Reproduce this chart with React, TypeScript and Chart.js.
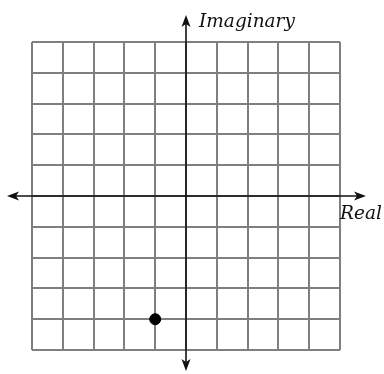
import React, { useEffect, useRef } from "react";
import { Chart, registerables } from "chart.js";

Chart.register(...registerables);

const realValues = [-1];
const imaginaryValues = [-4];
const axisMin = -5;
const axisMax = 5;
const xLabel = "Real";
const yLabel = "Imaginary";

const axesPlugin = {
  id: "complexAxes",
  afterDatasetsDraw(chart: any) {
    const { ctx, scales } = chart;
    const x0 = scales.x.getPixelForValue(0);
    const y0 = scales.y.getPixelForValue(0);
    ctx.save();
    ctx.strokeStyle = "#111";
    ctx.fillStyle = "#111";
    ctx.lineWidth = 1.6;
    const hl = 7, hr = 366;
    ctx.beginPath();
    ctx.moveTo(hl + 6, y0);
    ctx.lineTo(hr - 6, y0);
    ctx.stroke();
    const vt = 15, vb = 371;
    ctx.beginPath();
    ctx.moveTo(x0, vt + 6);
    ctx.lineTo(x0, vb - 6);
    ctx.stroke();
    const tri = (pts: number[][]) => {
      ctx.beginPath();
      ctx.moveTo(pts[0][0], pts[0][1]);
      ctx.lineTo(pts[1][0], pts[1][1]);
      ctx.lineTo(pts[2][0], pts[2][1]);
      ctx.lineTo(pts[3][0], pts[3][1]);
      ctx.closePath();
      ctx.fill();
    };
    tri([[hl, y0], [hl + 12, y0 - 4.5], [hl + 9, y0], [hl + 12, y0 + 4.5]]);
    tri([[hr, y0], [hr - 12, y0 - 4.5], [hr - 9, y0], [hr - 12, y0 + 4.5]]);
    tri([[x0, vt], [x0 - 4.5, vt + 12], [x0, vt + 9], [x0 + 4.5, vt + 12]]);
    tri([[x0, vb], [x0 - 4.5, vb - 12], [x0, vb - 9], [x0 + 4.5, vb - 12]]);
    ctx.font = "italic 18.5px 'DejaVu Serif'";
    ctx.textBaseline = "alphabetic";
    ctx.textAlign = "left";
    ctx.fillStyle = "#111";
    ctx.fillText(yLabel, x0 + 13, 27);
    ctx.fillText(xLabel, 340, 219);
    ctx.restore();
  },
};

export default function App() {
  const ref = useRef<HTMLCanvasElement>(null);
  useEffect(() => {
    if (!ref.current) return;
    const chart = new Chart(ref.current, {
      type: "scatter",
      data: {
        datasets: [
          {
            data: realValues.map((r, i) => ({ x: r, y: imaginaryValues[i] })),
            backgroundColor: "#000",
            borderColor: "#000",
            pointRadius: 5.5,
          },
        ],
      },
      options: {
        animation: false,
        responsive: false,
        layout: { padding: { left: 32, right: 44, top: 42, bottom: 24 } },
        plugins: { legend: { display: false }, tooltip: { enabled: false } },
        scales: {
          x: {
            type: "linear",
            min: axisMin,
            max: axisMax,
            ticks: { display: false, stepSize: 1 },
            grid: { color: "#7f7f7f", lineWidth: 2, drawTicks: false },
            border: { display: false },
          },
          y: {
            type: "linear",
            min: axisMin,
            max: axisMax,
            ticks: { display: false, stepSize: 1 },
            grid: { color: "#7f7f7f", lineWidth: 2, drawTicks: false },
            border: { display: false },
          },
        },
      },
      plugins: [axesPlugin],
    });
    return () => chart.destroy();
  }, []);
  return (
    <div style={{ position: "fixed", left: 0, top: 0, width: 384, height: 374, background: "#fff" }}>
      <canvas ref={ref} width={384} height={374} style={{ width: 384, height: 374 }} />
    </div>
  );
}
